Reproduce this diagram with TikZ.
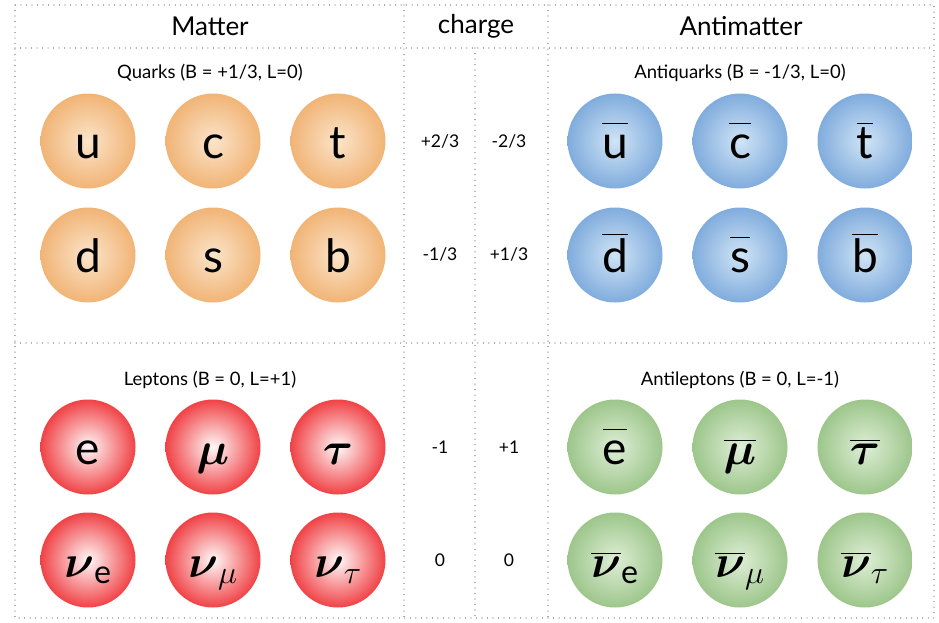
\RequirePackage{fix-cm}
\documentclass[tikz,border=0pt]{standalone}
\usepackage{amsmath}
\usepackage{fontspec}
\setmainfont{Lato}
\usetikzlibrary{positioning}
\definecolor{gridgray}{RGB}{150,150,150}
\definecolor{quarkin}{RGB}{251,228,202}
\definecolor{quarkout}{RGB}{241,180,118}
\definecolor{antiquarkin}{RGB}{208,228,245}
\definecolor{antiquarkout}{RGB}{128,172,221}
\definecolor{leptonin}{RGB}{255,248,248}
\definecolor{leptonout}{RGB}{240,66,70}
\definecolor{antileptonin}{RGB}{222,238,214}
\definecolor{antileptonout}{RGB}{157,198,139}
\newcommand{\barsym}[1]{$\overline{\mbox{#1}\vphantom{\mbox{t}}}$}
\tikzset{
  grid/.style = {
    draw=gridgray,
    line width=1.1pt,
    dash pattern=on 0.01pt off 5.5pt,
    line cap=round
  },
  head/.style = {
    font=\fontsize{26}{30}\selectfont
  },
  subhead/.style = {
    font=\fontsize{18.5}{22}\selectfont
  },
  chargelabel/.style = {
    font=\fontsize{17.5}{21}\selectfont
  },
  ball/.style = {
    circle,
    minimum size=95pt,
    inner sep=0pt,
    text height=34pt,
    text depth=0pt,
    font=\fontsize{46}{52}\selectfont
  },
  quark/.style = {ball, inner color=quarkin, outer color=quarkout},
  antiquark/.style = {ball, inner color=antiquarkin, outer color=antiquarkout},
  lepton/.style = {ball, inner color=leptonin, outer color=leptonout},
  antilepton/.style = {ball, inner color=antileptonin, outer color=antileptonout}
}

\begin{document}
\begin{tikzpicture}[x=1pt, y=-1pt]
\useasboundingbox (0,0) rectangle (939,623);

% Tabellenraster
\draw[grid] (15,5) rectangle (934,618);
\draw[grid] (15,48) -- (934,48);
\draw[grid] (15,343) -- (934,343);
\draw[grid] (404,5) -- (404,618);
\draw[grid] (548,5) -- (548,618);
\draw[grid] (475,48) -- (475,618);

% Kopfzeile
\node[head] (matter) at (210,26) {Matter};
\node[head] (charge) at (476,26) {charge};
\node[head] (antimatter) at (741,26) {Antimatter};

% Untertitel
\node[subhead] (quarks) at (210,73) {Quarks (B = +1/3, L=0)};
\node[subhead] (antiquarks) at (740,73) {Antiquarks (B = -1/3, L=0)};
\node[subhead] (leptons) at (210,380) {Leptons (B = 0, L=+1)};
\node[subhead] (antileptons) at (740,380) {Antileptons (B = 0, L=-1)};

% Quarks
\node[quark] (u) at (88,141) {u};
\node[quark] (c) at (213,141) {c};
\node[quark] (t) at (338,141) {t};
\node[quark] (d) at (88,255) {d};
\node[quark] (s) at (213,255) {s};
\node[quark] (b) at (338,255) {b};

% Antiquarks
\node[antiquark] (ubar) at (615,141) {\barsym{u}};
\node[antiquark] (cbar) at (740,141) {\barsym{c}};
\node[antiquark] (tbar) at (865,141) {\barsym{t}};
\node[antiquark] (dbar) at (615,255) {\barsym{d}};
\node[antiquark] (sbar) at (740,255) {\barsym{s}};
\node[antiquark] (bbar) at (865,255) {\barsym{b}};

% Leptonen
\node[lepton] (e) at (88,447) {e};
\node[lepton] (mu) at (213,447) {$\boldsymbol{\mu}$};
\node[lepton] (tau) at (338,447) {$\boldsymbol{\tau}$};
\node[lepton] (nue) at (88,560) {$\boldsymbol{\nu}_{\text{e}}$};
\node[lepton] (numu) at (213,560) {$\boldsymbol{\nu}_{\mu}$};
\node[lepton] (nutau) at (338,560) {$\boldsymbol{\nu}_{\tau}$};

% Antileptonen
\node[antilepton] (ebar) at (615,447) {\barsym{e}};
\node[antilepton] (mubar) at (740,447) {$\overline{\boldsymbol{\mu}}$};
\node[antilepton] (taubar) at (865,447) {$\overline{\boldsymbol{\tau}}$};
\node[antilepton] (nuebar) at (615,560) {$\overline{\boldsymbol{\nu}}_{\text{e}}$};
\node[antilepton] (numubar) at (740,560) {$\overline{\boldsymbol{\nu}}_{\mu}$};
\node[antilepton] (nutaubar) at (865,560) {$\overline{\boldsymbol{\nu}}_{\tau}$};

% Ladungen
\node[chargelabel] (qu) at (440,141) {+2/3};
\node[chargelabel] (qubar) at (509,141) {-2/3};
\node[chargelabel] (qd) at (440,254) {-1/3};
\node[chargelabel] (qdbar) at (509,254) {+1/3};
\node[chargelabel] (qe) at (440,447) {-1};
\node[chargelabel] (qebar) at (509,447) {+1};
\node[chargelabel] (qnu) at (440,560) {0};
\node[chargelabel] (qnubar) at (509,560) {0};

\end{tikzpicture}
\end{document}
